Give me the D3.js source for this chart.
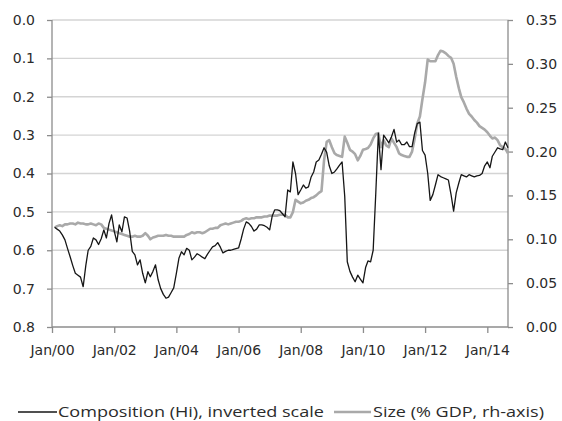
<!DOCTYPE html>
<html>
<head>
<meta charset="utf-8">
<script src="https://cdn.jsdelivr.net/npm/d3@7"></script>
<style>
  body { margin: 0; background: #fff; }
  svg { display: block; }
</style>
</head>
<body>
<div id="vis"></div>
<script>
'use strict'

// monthly series, first value = Feb 2000
const startMonth = new Date(2000, 1, 1);

// Composition (Hi), left axis, inverted
const composition = [
  0.540, 0.545, 0.550, 0.560, 0.573, 0.595, 0.617, 0.640, 0.660, 0.665, 0.670, 0.695,
  0.640, 0.600, 0.590, 0.568, 0.573, 0.585, 0.570, 0.547, 0.568, 0.530, 0.508, 0.550,
  0.578, 0.534, 0.552, 0.513, 0.516, 0.550, 0.603, 0.612, 0.638, 0.625, 0.660, 0.685,
  0.656, 0.669, 0.655, 0.638, 0.677, 0.700, 0.715, 0.725, 0.722, 0.710, 0.698, 0.660,
  0.620, 0.604, 0.612, 0.595, 0.600, 0.625, 0.618, 0.609, 0.613, 0.618, 0.622, 0.610,
  0.600, 0.591, 0.588, 0.580, 0.592, 0.607, 0.603, 0.600, 0.600, 0.598, 0.596, 0.594,
  0.570, 0.545, 0.526, 0.530, 0.538, 0.550, 0.545, 0.534, 0.534, 0.536, 0.540, 0.547,
  0.510, 0.495, 0.495, 0.497, 0.505, 0.513, 0.443, 0.448, 0.370, 0.400, 0.455, 0.443,
  0.430, 0.438, 0.435, 0.410, 0.396, 0.370, 0.365, 0.350, 0.333, 0.345, 0.380, 0.400,
  0.396, 0.388, 0.378, 0.370, 0.460, 0.630, 0.655, 0.670, 0.682, 0.665, 0.675, 0.685,
  0.645, 0.628, 0.630, 0.600, 0.450, 0.295, 0.390, 0.300, 0.310, 0.320, 0.305, 0.285,
  0.318, 0.313, 0.325, 0.325, 0.318, 0.330, 0.330, 0.294, 0.270, 0.266, 0.340, 0.352,
  0.400, 0.470, 0.455, 0.430, 0.403, 0.408, 0.411, 0.414, 0.417, 0.455, 0.498, 0.450,
  0.424, 0.403, 0.406, 0.409, 0.403, 0.406, 0.409, 0.406, 0.405, 0.400, 0.380, 0.370,
  0.385, 0.355, 0.344, 0.333, 0.336, 0.338, 0.318, 0.333
];

// Size (% GDP), right axis
const size = [
  0.113, 0.115, 0.116, 0.115, 0.117, 0.117, 0.118, 0.118, 0.117, 0.119, 0.118, 0.118,
  0.117, 0.117, 0.118, 0.117, 0.116, 0.118, 0.117, 0.113, 0.112, 0.111, 0.110, 0.109,
  0.108, 0.107, 0.106, 0.105, 0.104, 0.103, 0.103, 0.104, 0.103, 0.103, 0.104, 0.107,
  0.104, 0.100, 0.102, 0.103, 0.104, 0.104, 0.104, 0.105, 0.104, 0.104, 0.103, 0.103,
  0.103, 0.103, 0.103, 0.105, 0.106, 0.108, 0.107, 0.108, 0.108, 0.107, 0.108, 0.110,
  0.112, 0.112, 0.113, 0.113, 0.116, 0.117, 0.118, 0.117, 0.118, 0.119, 0.120, 0.120,
  0.121, 0.123, 0.124, 0.123, 0.124, 0.124, 0.125, 0.125, 0.125, 0.126, 0.126, 0.127,
  0.127, 0.127, 0.127, 0.128, 0.128, 0.128, 0.125, 0.125, 0.131, 0.145, 0.143, 0.141,
  0.142, 0.144, 0.145, 0.147, 0.148, 0.150, 0.153, 0.155, 0.190, 0.211, 0.213, 0.205,
  0.198, 0.196, 0.195, 0.194, 0.217, 0.210, 0.202, 0.200, 0.197, 0.190, 0.195, 0.202,
  0.203, 0.204, 0.208, 0.215, 0.220, 0.221, 0.205, 0.213, 0.207, 0.205, 0.215, 0.210,
  0.205, 0.198, 0.196, 0.195, 0.194, 0.194, 0.200, 0.215, 0.232, 0.240, 0.260, 0.279,
  0.305, 0.303, 0.303, 0.303, 0.310, 0.315, 0.314, 0.312, 0.309, 0.307, 0.300, 0.285,
  0.272, 0.262, 0.256, 0.249, 0.243, 0.240, 0.236, 0.233, 0.229, 0.227, 0.225, 0.222,
  0.218, 0.215, 0.216, 0.213, 0.207, 0.205, 0.203, 0.198
];

const leftTicks = [0, 0.1, 0.2, 0.3, 0.4, 0.5, 0.6, 0.7, 0.8];
const rightTicks = [0, 0.05, 0.10, 0.15, 0.20, 0.25, 0.30, 0.35];
const yearTicks = [2000, 2002, 2004, 2006, 2008, 2010, 2012, 2014];
const legendLabels = ["Composition (Hi), inverted scale", "Size (% GDP, rh-axis)"];

////////////////////////////////////////
////////////// Setup ///////////////////
////////////////////////////////////////

const options = {
  width: 562,
  height: 421,
  margin: { top: 20, right: 54, bottom: 94, left: 52 },
  grid: "#d4d4d4",
  axis: "#8c8c8c",
  text: "#2b2b2b",
  black: "#161616",
  gray: "#a9a9a9"
};

const width = options.width - options.margin.left - options.margin.right;
const height = options.height - options.margin.top - options.margin.bottom;

const dates = composition.map((d, i) => d3.timeMonth.offset(startMonth, i));

const svg = d3.select('#vis').append('svg')
  .attr('width', options.width)
  .attr('height', options.height)
  .append('g')
  .attr('transform', `translate(${options.margin.left},${options.margin.top})`);

////////////////////////////////////////
////////////// Scales //////////////////
////////////////////////////////////////

const x = d3.scaleTime()
  .domain([new Date(2000, 0, 1), dates[dates.length - 1]])
  .range([0, width]);

const yLeft = d3.scaleLinear().domain([0, 0.8]).range([0, height]);
const yRight = d3.scaleLinear().domain([0, 0.35]).range([height, 0]);

////////////////////////////////////////
////////////// Grid & Axes /////////////
////////////////////////////////////////

svg.append('g')
  .selectAll('line')
  .data(leftTicks.slice(0, -1))
  .join('line')
  .attr('x1', 0).attr('x2', width)
  .attr('y1', d => yLeft(d)).attr('y2', d => yLeft(d))
  .attr('stroke', options.grid)
  .attr('stroke-width', 1.3);

function styleAxis(g) {
  g.select('.domain').attr('stroke', options.axis).attr('stroke-width', 1.3);
  g.selectAll('.tick line').attr('stroke', options.axis).attr('stroke-width', 1.3);
  g.selectAll('.tick text')
    .attr('fill', options.text)
    .style('font-family', '"DejaVu Sans", Verdana, sans-serif')
    .style('font-size', '14px');
}

svg.append('g')
  .call(d3.axisLeft(yLeft).tickValues(leftTicks).tickFormat(d3.format('.1f')).tickSize(5).tickPadding(12))
  .call(styleAxis)
  .call(g => g.select('.domain').attr('d', `M0,0V${height}`));

svg.append('g')
  .attr('transform', `translate(${width},0)`)
  .call(d3.axisRight(yRight).tickValues(rightTicks).tickFormat(d3.format('.2f')).tickSize(5).tickPadding(13))
  .call(styleAxis)
  .call(g => g.select('.domain').attr('d', `M0,0V${height}`));

svg.append('g')
  .attr('transform', `translate(0,${height})`)
  .call(d3.axisBottom(x).tickValues(yearTicks.map(y => new Date(y, 0, 1))).tickFormat(d3.timeFormat('Jan/%y')).tickSize(6).tickPadding(12))
  .call(styleAxis)
  .call(g => g.select('.domain').attr('d', `M0,0H${width}`));

////////////////////////////////////////
////////////// Lines ///////////////////
////////////////////////////////////////

svg.append('path')
  .datum(size)
  .attr('fill', 'none')
  .attr('stroke', options.gray)
  .attr('stroke-width', 2.6)
  .attr('stroke-linejoin', 'round')
  .attr('d', d3.line().x((d, i) => x(dates[i])).y(d => yRight(d)));

svg.append('path')
  .datum(composition)
  .attr('fill', 'none')
  .attr('stroke', options.black)
  .attr('stroke-width', 1.3)
  .attr('stroke-linejoin', 'round')
  .attr('d', d3.line().x((d, i) => x(dates[i])).y(d => yLeft(d)));

////////////////////////////////////////
////////////// Legend //////////////////
////////////////////////////////////////

const legend = d3.select('svg').append('g')
  .attr('transform', 'translate(0,412)');

const legendItems = [
  { label: legendLabels[0], color: options.black, sw: 1.3, x1: 18, x2: 57, tx: 58, tw: 266 },
  { label: legendLabels[1], color: options.gray, sw: 2.6, x1: 334, x2: 371, tx: 373, tw: 171 }
];

legendItems.forEach(d => {
  legend.append('line')
    .attr('x1', d.x1).attr('x2', d.x2)
    .attr('y1', 0).attr('y2', 0)
    .attr('stroke', d.color)
    .attr('stroke-width', d.sw);
  legend.append('text')
    .attr('x', d.tx)
    .attr('y', 0)
    .attr('dy', '0.35em')
    .attr('textLength', d.tw)
    .attr('lengthAdjust', 'spacingAndGlyphs')
    .attr('fill', options.text)
    .style('font-family', '"Open Sans", sans-serif')
    .style('font-size', '15px')
    .text(d.label);
});
</script>
</body>
</html>
